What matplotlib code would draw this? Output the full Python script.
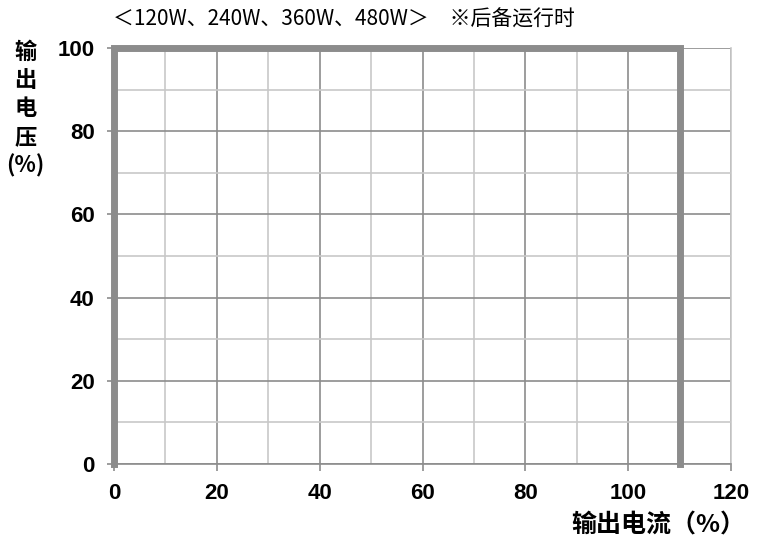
import numpy as np
import matplotlib
matplotlib.use("Agg")
import matplotlib.pyplot as plt

plt.rcParams['font.family'] = ['Noto Sans CJK SC', 'DejaVu Sans']

# output characteristic (backup operation)
current = [0, 0, 110, 110]
voltage = [0, 100, 100, 0]

x_ticks = [0, 20, 40, 60, 80, 100, 120]
y_ticks = [0, 20, 40, 60, 80, 100]

title = "＜120W、240W、360W、480W＞　※后备运行时"
x_label = "输出电流（%）"
y_label = "输\n出\n电\n压\n(%)"

fig = plt.figure(figsize=(7.57, 5.41), dpi=100)
ax = fig.add_axes([0.1506, 0.1423, 0.8151, 0.769])

ax.set_xlim(0, 120)
ax.set_ylim(0, 100)
ax.set_xticks(x_ticks)
ax.set_yticks(y_ticks)
ax.set_xticks(np.arange(0, 121, 10), minor=True)
ax.set_yticks(np.arange(0, 101, 10), minor=True)

ax.grid(which='major', color='#8c8c8c', linewidth=1.2)
ax.grid(which='minor', color='#c8c8c8', linewidth=1.2)
ax.set_axisbelow(True)
ax.tick_params(which='minor', length=0)
ax.tick_params(which='major', length=5, width=1.2, color='#8c8c8c',
               labelsize=16, pad=9)
for lbl in ax.get_xticklabels() + ax.get_yticklabels():
    lbl.set_fontweight('bold')
    lbl.set_fontfamily(['Liberation Sans', 'DejaVu Sans'])

for side in ['left', 'bottom']:
    ax.spines[side].set_color('#8c8c8c')
    ax.spines[side].set_linewidth(1.2)
ax.spines['top'].set_visible(False)
ax.spines['right'].set_color('#c8c8c8')
ax.spines['right'].set_linewidth(1.2)

ax.plot(current, voltage, color='#8c8c8c', linewidth=5, clip_on=False,
        solid_joinstyle='miter', zorder=5)

fig.text(0.149, 0.963, title, fontsize=15, ha='left', va='center')
fig.text(0.034, 0.925, y_label, fontsize=16, fontweight='bold',
         ha='center', va='top', linespacing=1.3)
fig.text(0.985, 0.028, x_label, fontsize=18, fontweight='bold',
         ha='right', va='center')

fig.savefig("out.png", dpi=100)
